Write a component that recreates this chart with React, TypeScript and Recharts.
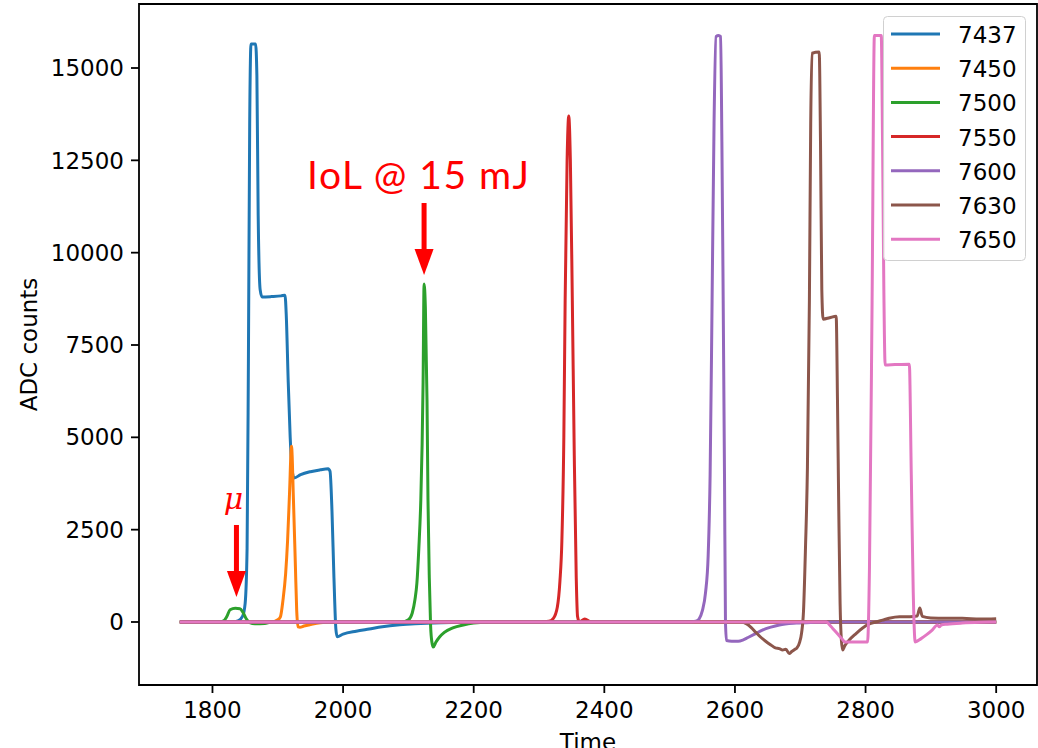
import { LineChart, XAxis, YAxis, Line, Legend, ReferenceArea, ReferenceDot } from 'recharts';

// x ticks / y ticks
const xTicks = [1800, 2000, 2200, 2400, 2600, 2800, 3000];
const yTicks = [0, 2500, 5000, 7500, 10000, 12500, 15000];

// waveforms (time, ADC counts)
const t7437 = [1750, 1830, 1840, 1846, 1850, 1853, 1855, 1857, 1859, 1866, 1868, 1870, 1873, 1876, 1890, 1905, 1911, 1913, 1916, 1919, 1922, 1925, 1935, 1950, 1965, 1977, 1980, 1983, 1986, 1989, 1991, 2000, 2020, 2040, 2060, 2083, 2110, 2150, 2200, 3000];
const v7437 = [0, 0, 40, 150, 500, 2000, 7000, 13500, 15650, 15650, 14800, 11000, 9000, 8800, 8810, 8830, 8850, 8300, 6500, 5000, 4100, 3900, 3990, 4070, 4120, 4150, 4080, 3000, 1200, -200, -400, -330, -250, -190, -130, -80, -50, -20, 0, 0];

const t7450 = [1750, 1890, 1900, 1904, 1908, 1912, 1915, 1918, 1921, 1924, 1927, 1929, 1931, 1934, 1940, 1950, 1965, 1980, 3000];
const v7450 = [0, 0, 60, 140, 600, 1300, 2200, 3500, 4760, 3300, 1500, 300, -130, -140, -110, -70, -20, 0, 0];

const t7500 = [1750, 1810, 1817, 1822, 1827, 1835, 1842, 1847, 1852, 1857, 1865, 1880, 1890, 2090, 2100, 2106, 2110, 2113, 2116, 2119, 2121, 2122.5, 2124, 2126, 2128.5, 2130, 2132, 2134, 2136, 2138, 2142, 2148, 2155, 2168, 2184, 2200, 2230, 3000];
const v7500 = [0, 0, 30, 150, 330, 370, 360, 250, 80, -20, -50, -40, 0, 0, 60, 250, 600, 1050, 2000, 3300, 4800, 6500, 9150, 8500, 6000, 3300, 1200, -100, -550, -680, -550, -400, -280, -160, -80, -30, 0, 0];

const t7550 = [1750, 2300, 2315, 2322, 2328, 2332, 2335, 2338, 2340, 2343, 2345.5, 2348, 2351, 2354, 2357, 2359, 2362, 2370, 2380, 3000];
const v7550 = [0, 0, 20, 100, 400, 1100, 2200, 5000, 8700, 12500, 13700, 12500, 8700, 4500, 1200, 150, 0, 80, 0, 0];

const t7600 = [1750, 2530, 2540, 2545, 2550, 2555, 2559, 2562, 2565, 2568, 2571, 2575, 2578, 2580, 2582, 2584, 2585.5, 2587, 2595, 2605, 2612, 2620, 2630, 2642, 2655, 2668, 2694, 2720, 2750, 3000];
const v7600 = [0, 0, 20, 80, 300, 800, 1800, 4000, 8700, 13500, 15850, 15880, 15850, 13000, 8700, 4000, 0, -500, -520, -520, -490, -420, -330, -220, -140, -80, -30, -10, 0, 0];

const t7630 = [1750, 2610, 2618, 2625, 2632, 2640, 2647, 2655, 2662, 2668, 2673, 2678, 2683, 2687, 2691, 2695, 2699, 2702, 2705, 2708, 2711, 2714, 2716, 2718, 2729, 2731, 2733, 2735, 2745, 2755, 2757, 2759, 2761, 2763, 2765, 2768, 2775, 2785, 2795, 2805, 2816, 2826, 2836, 2852, 2868, 2879, 2883, 2887, 2900, 2923, 2948, 2975, 3000];
const v7630 = [0, 0, -50, -150, -280, -420, -520, -620, -700, -720, -760, -740, -850, -800, -750, -700, -550, -300, 300, 2000, 4200, 8700, 13500, 15400, 15430, 13000, 9000, 8200, 8240, 8280, 6000, 3000, 500, -500, -760, -650, -490, -320, -170, -60, 0, 50, 100, 140, 140, 160, 380, 150, 110, 100, 100, 80, 90];

const t7650 = [1750, 2740, 2745, 2750, 2755, 2760, 2765, 2768, 2780, 2795, 2803, 2806, 2810, 2813.5, 2824, 2826, 2828, 2830, 2845, 2867, 2870, 2873, 2876, 2885, 2893, 2902, 2910, 2913, 2916, 2925, 2948, 2975, 3000];
const v7650 = [0, 0, -80, -180, -280, -380, -480, -540, -540, -540, -540, 1490, 8700, 15880, 15880, 13000, 9000, 6960, 6970, 6980, 4000, 800, -540, -450, -350, -220, -80, -130, -80, -60, -30, -10, 0];

const zip = (t: number[], v: number[]) => t.map((x, i) => ({ t: x, v: v[i] }));

const series = [
  { name: '7437', color: '#1f77b4', data: zip(t7437, v7437) },
  { name: '7450', color: '#ff7f0e', data: zip(t7450, v7450) },
  { name: '7500', color: '#2ca02c', data: zip(t7500, v7500) },
  { name: '7550', color: '#d62728', data: zip(t7550, v7550) },
  { name: '7600', color: '#9467bd', data: zip(t7600, v7600) },
  { name: '7630', color: '#8c564b', data: zip(t7630, v7630) },
  { name: '7650', color: '#e377c2', data: zip(t7650, v7650) },
];

const xDomain = [1687.5, 3062.5];
const yDomain = [-1706, 16733];
const font = 'DejaVu Sans, sans-serif';

function LegendBox({ payload }: any) {
  const items = payload || [];
  return (
    <svg width={143} height={245} style={{ fontFamily: font }}>
      <rect x={0.5} y={0.5} width={142} height={244} rx={4} fill="rgba(255,255,255,0.8)" stroke="#d0d0d0" strokeWidth={1} />
      {items.map((p: any, i: number) => {
        const cy = 18 + i * 34.2;
        return (
          <g key={p.value}>
            <line x1={8} x2={57} y1={cy} y2={cy} stroke={p.color} strokeWidth={3} />
            <text x={75} y={cy + 9} fontSize={23} fill="#000">{p.value}</text>
          </g>
        );
      })}
    </svg>
  );
}

function Arrow(props: any) {
  const { cx, cy, text, italic } = props;
  if (cx == null || cy == null) return null;
  return (
    <g>
      <rect x={cx - 2.5} y={cy - 72} width={5} height={48} fill="#ff0000" />
      <polygon points={`${cx - 9.5},${cy - 26} ${cx + 9.5},${cy - 26} ${cx},${cy}`} fill="#ff0000" />
      {italic ? (
        <text x={cx - 3} y={cy - 88} textAnchor="middle" fontSize={30} fontStyle="italic" fontFamily="DejaVu Serif, serif" fill="#ff0000">{text}</text>
      ) : (
        <text x={cx - 117} y={cy - 86} fontSize={39} fontFamily="Lato, sans-serif" textLength={222} fill="#ff0000">{text}</text>
      )}
    </g>
  );
}

export default function App() {
  return (
    <div style={{ position: 'absolute', left: 0, top: 0, background: '#fff' }}>
      <LineChart width={1038} height={748} margin={{ top: 4, right: 1, bottom: 0, left: 0 }}>
        <XAxis
          type="number"
          dataKey="t"
          domain={xDomain}
          ticks={xTicks}
          allowDataOverflow
          height={63}
          tickSize={8}
          tickMargin={9}
          axisLine={false}
          tickLine={{ stroke: '#000', strokeWidth: 1.8 }}
          tick={{ fill: '#000', fontSize: 23, fontFamily: font }}
          label={{
            content: (p: any) => {
              const vb = p.viewBox;
              return (
                <text x={vb.x + vb.width / 2} y={vb.y + vb.height + 2} textAnchor="middle" fontSize={23} fontFamily={font} fill="#000">Time</text>
              );
            },
          }}
        />
        <YAxis
          type="number"
          domain={yDomain}
          ticks={yTicks}
          allowDataOverflow
          width={139}
          tickSize={8}
          tickMargin={7}
          axisLine={false}
          tickLine={{ stroke: '#000', strokeWidth: 1.8 }}
          tick={{ fill: '#000', fontSize: 23, fontFamily: font }}
          label={{
            content: (p: any) => {
              const vb = p.viewBox;
              const x = vb.x + 37;
              const y = vb.y + vb.height / 2;
              return (
                <text x={x} y={y} transform={`rotate(-90, ${x}, ${y})`} textAnchor="middle" fontSize={23} fontFamily={font} fill="#000">ADC counts</text>
              );
            },
          }}
        />
        {series.map((s) => (
          <Line
            key={s.name}
            data={s.data}
            dataKey="v"
            name={s.name}
            type="monotone"
            stroke={s.color}
            strokeWidth={3}
            strokeLinejoin="round"
            dot={false}
            activeDot={false}
            isAnimationActive={false}
          />
        ))}
        <ReferenceArea x1={xDomain[0]} x2={xDomain[1]} y1={yDomain[0]} y2={yDomain[1]} fill="none" stroke="#000" strokeWidth={1.8} fillOpacity={0} />
        <ReferenceDot x={2124} y={9395} shape={(p: any) => <Arrow {...p} text="IoL @ 15 mJ" />} />
        <ReferenceDot x={1836.7} y={677} shape={(p: any) => <Arrow {...p} text="μ" italic />} />
        <Legend
          layout="horizontal"
          verticalAlign="middle"
          align="center"
          wrapperStyle={{ left: 883, top: 16, width: 143, height: 245 }}
          content={(p: any) => <LegendBox payload={p.payload} />}
        />
      </LineChart>
    </div>
  );
}
